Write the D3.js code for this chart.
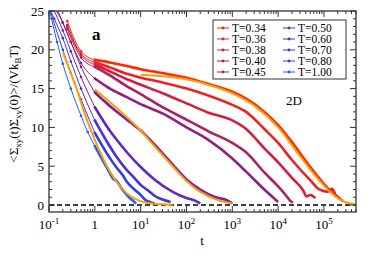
<!DOCTYPE html>
<html>
<head>
<meta charset="utf-8">
<script src="https://cdn.jsdelivr.net/npm/d3@7"></script>
<style>
  body { margin: 0; background: #fff; }
  text { font-family: "Liberation Serif", "Times New Roman", serif; fill: #000; }
</style>
</head>
<body>
<svg id="c" width="374" height="255"></svg>
<script>
// temperatures and colours, red (low T) to blue (high T)
const temps = ['0.34', '0.36', '0.38', '0.40', '0.45', '0.50', '0.60', '0.70', '0.80', '1.00'];
const colors = ['#ff2a00', '#ec2222', '#d41e40', '#b21f5e', '#93207c', '#7c2298', '#6228bc', '#4630da', '#2c3ef2', '#1f5eff'];

// <Σxy(t)Σxy(0)>/(V kB T), [t, value]
const s034 = [[0.25,23.7],[0.5,19.8],[1,18.7],[2,18.4],[5,17.9],[10,17.5],[30,17.0],[100,16.4],[300,15.6],[1000,14.6],[2000,13.7],[5000,12.0],[1e4,10.3],[2e4,8.1],[5e4,4.9],[1e5,2.7],[1.5e5,1.6],[2e5,1.0],[2.6e5,0.5]];
const s036 = [[0.25,23.2],[0.5,19.5],[1,18.4],[2,17.8],[5,16.9],[10,16.4],[30,15.8],[100,15.0],[300,14.1],[1000,12.9],[2000,12.0],[5000,9.8],[1e4,8.0],[2e4,5.8],[5e4,3.2],[8e4,2.0],[1.2e5,1.7],[1.5e5,2.1],[1.8e5,1.3],[2.3e5,0.8]];
const s038 = [[0.25,23.0],[0.5,19.3],[1,18.1],[2,17.3],[5,16.2],[10,15.5],[30,14.4],[100,13.1],[300,11.9],[1000,10.9],[2000,9.8],[5000,7.3],[1e4,5.5],[2e4,3.5],[3.5e4,1.9],[4.2e4,1.1],[5e4,1.3],[6.5e4,0.9]];
const s040 = [[0.25,22.7],[0.5,19.0],[1,17.8],[2,16.8],[5,15.3],[10,14.3],[30,12.6],[100,11.0],[300,9.5],[1000,8.0],[2000,6.8],[5000,4.2],[1e4,2.4],[1.5e4,1.2],[1.8e4,0.6],[2.1e4,0.3]];
const s045 = [[0.15,25.3],[0.2,23.5],[0.3,21.0],[0.5,18.3],[1,16.3],[2,15.1],[5,13.9],[10,13.0],[30,11.8],[100,10.0],[300,8.4],[1000,6.0],[2000,4.3],[5000,2.0],[8000,0.9],[1e4,0.4]];
const s050 = [[0.13,25.5],[0.2,23.5],[0.3,21.0],[0.5,17.8],[1,14.5],[2,12.9],[5,11.0],[10,9.6],[20,7.8],[50,5.2],[100,3.3],[200,2.0],[500,0.9],[700,0.7],[1000,0.2]];
const s060 = [[0.12,25.5],[0.2,22.5],[0.3,19.8],[0.5,16.5],[1,12.6],[2,9.8],[3,8.4],[5,6.8],[10,4.9],[20,3.3],[50,1.7],[100,0.9],[150,0.6],[200,0.2]];
const s070 = [[0.1,25.5],[0.13,24.0],[0.2,21.5],[0.3,18.5],[0.5,15.0],[1,10.9],[2,7.8],[3,6.2],[5,4.5],[7,3.6],[10,2.6],[15,1.8],[20,1.2],[30,0.7],[45,0.4]];
const s080 = [[0.1,25.5],[0.2,20.0],[0.3,17.0],[0.5,13.6],[1,9.3],[2,6.3],[3,4.8],[4,3.9],[5,3.0],[7,2.1],[10,1.3],[13,0.6],[16,0.4],[20,0.2]];
const s100 = [[0.1,25.5],[0.15,21.0],[0.2,18.2],[0.3,15.0],[0.5,11.5],[0.7,9.4],[1,7.6],[2,4.4],[2.5,3.4],[3,3.1],[4,2.0],[5,1.3],[6,0.8],[7,0.5],[8,0.2]];
const series = [s034, s036, s038, s040, s045, s050, s060, s070, s080, s100];

// orange fits
const fit034 = [[10,16.8],[30,16.6],[100,16.2],[300,15.5],[1000,14.4],[3000,12.8],[1e4,10.0],[3e4,6.3],[1e5,2.5],[2e5,0.9],[3e5,0.35],[5e5,0.05]];
const fit050 = [[1,14.9],[2,13.4],[5,11.3],[10,9.6],[20,7.6],[50,5.0],[100,3.1],[200,1.7],[500,0.6],[1000,0.2]];
const fit100 = [[0.2,19.7],[0.3,17.0],[0.4,15.0],[0.6,11.8],[0.8,9.8],[1,8.4],[2,4.6],[3,3.0],[5,1.5],[10,0.5],[20,0.15],[50,0.02]];
const fits = [fit034, fit050, fit100];

const xTicks = [0.1, 1, 10, 100, 1e3, 1e4, 1e5];
const yTicks = [0, 5, 10, 15, 20, 25];

const svg = d3.select('#c');
const margin = { top: 11, right: 18, bottom: 43, left: 49 };
const width = 374, height = 255;
const innerWidth = width - margin.left - margin.right;
const innerHeight = height - margin.top - margin.bottom;

const x = d3.scaleLog().domain([0.1, 5e5]).range([0, innerWidth]);
const y = d3.scaleLinear().domain([-0.9, 25]).range([innerHeight, 0]);

const g = svg.append('g').attr('transform', `translate(${margin.left},${margin.top})`);

g.append('clipPath').attr('id', 'clip')
  .append('rect').attr('width', innerWidth).attr('height', innerHeight);

const plot = g.append('g').attr('clip-path', 'url(#clip)');

// dashed zero line
plot.append('line')
  .attr('x1', 0).attr('x2', innerWidth)
  .attr('y1', y(0)).attr('y2', y(0))
  .attr('stroke', '#000').attr('stroke-width', 1.3)
  .attr('stroke-dasharray', '5,3');

const line = d3.line()
  .x(d => x(d[0]))
  .y(d => y(d[1]))
  .curve(d3.curveMonotoneX);

series.forEach((s, i) => {
  const early = s.filter(d => d[0] <= 1);
  const late = s.filter(d => d[0] >= 1);
  plot.append('path').datum(early)
    .attr('d', line).attr('fill', 'none')
    .attr('stroke', colors[i]).attr('stroke-width', 1);
  plot.append('path').datum(late)
    .attr('d', line).attr('fill', 'none')
    .attr('stroke', colors[i]).attr('stroke-width', 2.6)
    .attr('stroke-linejoin', 'round');
  plot.selectAll(null).data(s.filter(d => d[0] <= 2))
    .enter().append('circle')
      .attr('cx', d => x(d[0]))
      .attr('cy', d => y(d[1]))
      .attr('r', 1.3)
      .attr('fill', colors[i]);
});

fits.forEach(f => {
  plot.append('path').datum(f)
    .attr('d', line).attr('fill', 'none')
    .attr('stroke', '#ff9a00').attr('stroke-width', 2);
});

// frame
const axisColor = '#333';
g.append('rect')
  .attr('width', innerWidth).attr('height', innerHeight)
  .attr('fill', 'none').attr('stroke', axisColor).attr('stroke-width', 1.3);

// x ticks, log minor ticks, on bottom and top
const xMinor = [];
xTicks.forEach(d => {
  for (let k = 2; k <= 9; k++) if (k * d <= 5e5) xMinor.push(k * d);
});
const ticks = g.append('g').attr('stroke', axisColor).attr('stroke-width', 1);
[[xTicks, 6], [xMinor, 3]].forEach(([vals, len]) => {
  vals.forEach(v => {
    ticks.append('line').attr('x1', x(v)).attr('x2', x(v))
      .attr('y1', innerHeight).attr('y2', innerHeight - len);
    ticks.append('line').attr('x1', x(v)).attr('x2', x(v))
      .attr('y1', 0).attr('y2', len);
  });
});
const yMinor = d3.range(0, 26, 1).filter(v => v % 5 !== 0);
[[yTicks, 6], [yMinor, 3]].forEach(([vals, len]) => {
  vals.forEach(v => {
    ticks.append('line').attr('y1', y(v)).attr('y2', y(v))
      .attr('x1', 0).attr('x2', len);
    ticks.append('line').attr('y1', y(v)).attr('y2', y(v))
      .attr('x1', innerWidth).attr('x2', innerWidth - len);
  });
});

// tick labels
g.selectAll('.ylab').data(yTicks).enter().append('text')
  .attr('class', 'ylab')
  .attr('x', -5).attr('y', d => y(d) + 4.5)
  .attr('text-anchor', 'end')
  .attr('font-size', 13)
  .text(d => d);

xTicks.forEach(v => {
  const e = Math.round(Math.log10(v));
  const t = g.append('text')
    .attr('x', x(v)).attr('y', innerHeight + 17)
    .attr('text-anchor', 'middle')
    .attr('font-size', 13);
  if (e === 0) {
    t.text('1');
  } else {
    t.append('tspan').text('10');
    t.append('tspan').attr('font-size', 9).attr('dy', -5).text(e);
  }
});

// axis titles
svg.append('text')
  .attr('x', 202).attr('y', 245)
  .attr('text-anchor', 'middle').attr('font-size', 13)
  .text('t');

const yl = svg.append('text')
  .attr('transform', 'translate(18,104) rotate(-90)')
  .attr('text-anchor', 'middle').attr('font-size', 13);
const parts = [['<Σ', 0], ['xy', 1], ['(t)Σ', 0], ['xy', 1], ['(0)>/(Vk', 0], ['B', 1], ['T)', 0]];
let prev = 0;
parts.forEach(([s, sub]) => {
  yl.append('tspan')
    .attr('dy', (sub ? 3 : 0) - (prev ? 3 : 0))
    .attr('font-size', sub ? 9 : 13)
    .text(s);
  prev = sub;
});

// panel labels
g.append('text').attr('x', 43).attr('y', 29)
  .attr('font-size', 17).attr('font-weight', 'bold').text('a');
g.append('text').attr('x', 237).attr('y', 94)
  .attr('font-size', 13).text('2D');

// legend
const leg = svg.append('g').attr('transform', 'translate(213,20)');
leg.append('rect').attr('width', 133).attr('height', 59)
  .attr('fill', '#fff').attr('stroke', axisColor).attr('stroke-width', 1);
temps.forEach((tv, i) => {
  const col = Math.floor(i / 5), row = i % 5;
  const lg = leg.append('g').attr('transform', `translate(${4 + col * 66},${8 + row * 11})`);
  lg.append('line').attr('x1', 0).attr('x2', 12)
    .attr('stroke', colors[i]).attr('stroke-width', 1);
  lg.append('circle').attr('cx', 6).attr('r', 1.4).attr('fill', colors[i]);
  lg.append('text').attr('x', 15).attr('y', 4)
    .attr('font-size', 11.5).text('T=' + tv);
});
</script>
</body>
</html>
